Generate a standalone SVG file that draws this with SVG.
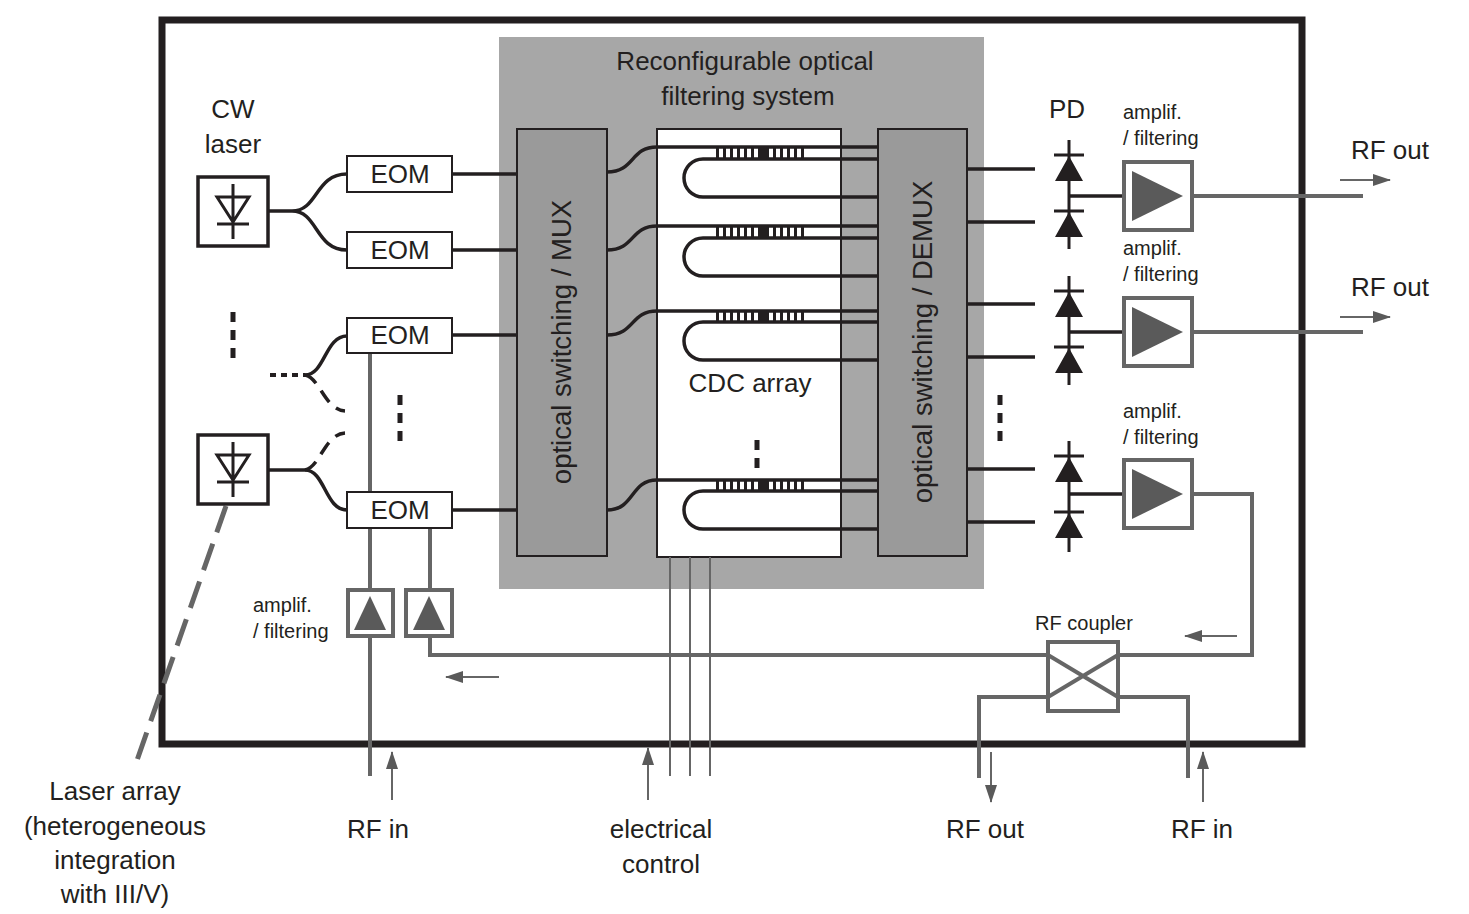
<svg xmlns="http://www.w3.org/2000/svg" width="1469" height="914" viewBox="0 0 1469 914">
<defs>
<marker id="ahb" markerWidth="18" markerHeight="12" refX="17" refY="6" orient="auto" markerUnits="userSpaceOnUse"><path d="M0,0 L18,6 L0,12 z" fill="#5a5a5a"/></marker>
</defs>
<style>
text{font-family:"Liberation Sans",Arial,sans-serif;fill:#231f20}
.t26{font-size:26px;text-anchor:middle}
.t28{font-size:27.5px;text-anchor:middle}
.t19{font-size:20px}
.wg{fill:none;stroke:#231f20;stroke-width:3.5}
.gl{fill:none;stroke:#666;stroke-width:4}
.thin{fill:none;stroke:#666;stroke-width:2}
.box{fill:#fff;stroke:#231f20;stroke-width:2}
.amp{fill:#fff;stroke:#666;stroke-width:4}
.tri{fill:#5a5a5a}
.dots{stroke:#231f20;stroke-width:5;stroke-dasharray:10,8;fill:none}
</style>
<rect x="162" y="20" width="1140" height="724" fill="#fff" stroke="#231f20" stroke-width="7"/>
<g id="filter-system">
<rect x="499" y="37" width="485" height="552" fill="#a7a7a7"/>
<text class="t26" x="745" y="70">Reconfigurable optical</text>
<text class="t26" x="748" y="105">filtering system</text>
</g>
<g id="mux"><rect x="517" y="129" width="90" height="427" fill="#9a9a9a" stroke="#231f20" stroke-width="2"/>
<text class="t28" transform="translate(571,342) rotate(-90)">optical switching / MUX</text></g>
<g id="demux"><rect x="878" y="129" width="89" height="427" fill="#9a9a9a" stroke="#231f20" stroke-width="2"/>
<text class="t28" transform="translate(932,342) rotate(-90)">optical switching / DEMUX</text></g>
<g id="cdc"><rect x="657" y="129" width="184" height="428" fill="#fff" stroke="#231f20" stroke-width="2"/>
<text class="t26" x="750" y="392">CDC array</text>
<line x1="757" y1="440" x2="757" y2="468" class="dots"/></g>
<g id="connectors">
<g class="wg">
<path d="M607,172 C635,172 630,147 657,147 L878,147"/>
<path d="M878,159 L703,159 A19,19 0 0 0 703,197 L878,197"/>
<path d="M607,250 C635,250 630,226 657,226 L878,226"/>
<path d="M878,238 L703,238 A19,19 0 0 0 703,276 L878,276"/>
<path d="M607,335 C635,335 630,311 657,311 L878,311"/>
<path d="M878,322 L703,322 A19,19 0 0 0 703,360 L878,360"/>
<path d="M607,510 C635,510 630,480 657,480 L878,480"/>
<path d="M878,491 L703,491 A19,19 0 0 0 703,529 L878,529"/>
<path d="M452,174 H517 M452,250 H517 M452,335 H517 M452,510 H517"/>
<path d="M967,169 H1035 M967,222 H1035 M967,304 H1035 M967,357 H1035 M967,469 H1035 M967,522 H1035"/>
<path d="M268,211 H292 C318,211 315,174 347,174 M292,211 C318,211 315,250 347,250"/>
<path d="M268,470 H305 C325,470 325,510 347,510"/>
<path d="M305,375 C325,375 325,336 347,336"/>
</g>
<path d="M270,375 H305" stroke="#231f20" stroke-width="4" stroke-dasharray="6,5" fill="none"/>
<path d="M305,375 C320,378 325,410 345,411" class="wg" stroke-dasharray="14,9"/>
<path d="M305,470 C320,467 325,434 345,433" class="wg" stroke-dasharray="14,9"/>
<g stroke="#231f20" stroke-width="3" stroke-dasharray="3,4">
<path d="M716,153 H758 M766,153 H808 M716,232 H758 M766,232 H808 M716,316 H758 M766,316 H808 M716,485 H758 M766,485 H808" stroke-width="11"/>
</g>
<g fill="#231f20"><rect x="758" y="147" width="8" height="12"/><rect x="758" y="226" width="8" height="12"/><rect x="758" y="311" width="8" height="11"/><rect x="758" y="480" width="8" height="11"/></g>
<path d="M1069,196 H1123 M1069,332 H1123 M1069,494 H1123" class="wg" stroke-width="3"/>
<path d="M1192,196 H1363 M1192,332 H1363" class="gl"/>
<path d="M1192,494 H1252 V655 H1118" class="gl"/>
<path d="M1048,655 H430 V636" class="gl"/>
<path d="M430,590 V528" class="gl"/>
<path d="M370,353 V590 M370,636 V776" class="gl"/>
<path d="M1048,697 H979 V778 M1118,697 H1188 V778" class="gl"/>
<path d="M670,557 V776 M690,557 V776 M710,557 V776" class="thin"/>
<g class="thin" stroke-width="2.5">
<line x1="1340" y1="180" x2="1390" y2="180" marker-end="url(#ahb)"/>
<line x1="1340" y1="317" x2="1390" y2="317" marker-end="url(#ahb)"/>
<line x1="1237" y1="636" x2="1185" y2="636" marker-end="url(#ahb)"/>
<line x1="499" y1="677" x2="446" y2="677" marker-end="url(#ahb)"/>
<line x1="392" y1="800" x2="392" y2="752" marker-end="url(#ahb)"/>
<line x1="648" y1="800" x2="648" y2="748" marker-end="url(#ahb)"/>
<line x1="991" y1="752" x2="991" y2="802" marker-end="url(#ahb)"/>
<line x1="1203" y1="802" x2="1203" y2="752" marker-end="url(#ahb)"/>
</g>
<path d="M226,506 L135,766" stroke="#666" stroke-width="5" stroke-dasharray="28,12" fill="none"/>
<g class="dots"><line x1="233" y1="312" x2="233" y2="366"/><line x1="400" y1="395" x2="400" y2="448"/><line x1="1000" y1="395" x2="1000" y2="448"/></g>
</g>
<g id="laser1"><rect x="198" y="177" width="70" height="69" fill="#fff" stroke="#231f20" stroke-width="3.5"/>
<path d="M233,184 V239 M217,197 H249 L233,222 Z M217,224 H249" fill="none" stroke="#231f20" stroke-width="3"/></g>
<g id="laser2"><rect x="198" y="435" width="70" height="69" fill="#fff" stroke="#231f20" stroke-width="3.5"/>
<path d="M233,442 V497 M217,455 H249 L233,480 Z M217,482 H249" fill="none" stroke="#231f20" stroke-width="3"/></g>
<text class="t26" x="233" y="118">CW</text><text class="t26" x="233" y="153">laser</text>
<g id="eom1"><rect class="box" x="347" y="156" width="105" height="36"/><text class="t26" x="400" y="183">EOM</text></g>
<g id="eom2"><rect class="box" x="347" y="232" width="105" height="36"/><text class="t26" x="400" y="259">EOM</text></g>
<g id="eom3"><rect class="box" x="347" y="318" width="105" height="35"/><text class="t26" x="400" y="344">EOM</text></g>
<g id="eom4"><rect class="box" x="347" y="492" width="105" height="36"/><text class="t26" x="400" y="519">EOM</text></g>
<g id="amp-in1"><rect class="amp" x="348" y="590" width="45" height="46" stroke-width="3"/><path class="tri" d="M370,596 L386,630 L354,630 Z"/></g>
<g id="amp-in2"><rect class="amp" x="406" y="590" width="46" height="46" stroke-width="3"/><path class="tri" d="M429,596 L445,630 L413,630 Z"/></g>
<text class="t19" x="253" y="612">amplif.</text><text class="t19" x="253" y="638">/ filtering</text>
<g id="pd">
<text class="t26" x="1067" y="118">PD</text>
<g stroke="#231f20" stroke-width="3" fill="#231f20">
<path d="M1069,140 V249 M1054,155 H1084 M1054,211 H1084 M1069,276 V385 M1054,291 H1084 M1054,347 H1084 M1069,441 V552 M1054,456 H1084 M1054,512 H1084" fill="none"/>
<path d="M1069,156 L1083,181 L1055,181 Z M1069,212 L1083,237 L1055,237 Z M1069,292 L1083,317 L1055,317 Z M1069,348 L1083,373 L1055,373 Z M1069,457 L1083,482 L1055,482 Z M1069,513 L1083,538 L1055,538 Z" stroke="none"/>
</g></g>
<g id="amp1"><rect class="amp" x="1124" y="162" width="68" height="68"/><path class="tri" d="M1132,171 L1183,196 L1132,221 Z"/>
<text class="t19" x="1123" y="119">amplif.</text><text class="t19" x="1123" y="145">/ filtering</text></g>
<g id="amp2"><rect class="amp" x="1124" y="298" width="68" height="68"/><path class="tri" d="M1132,307 L1183,332 L1132,357 Z"/>
<text class="t19" x="1123" y="255">amplif.</text><text class="t19" x="1123" y="281">/ filtering</text></g>
<g id="amp3"><rect class="amp" x="1124" y="460" width="68" height="68"/><path class="tri" d="M1132,469 L1183,494 L1132,519 Z"/>
<text class="t19" x="1123" y="418">amplif.</text><text class="t19" x="1123" y="444">/ filtering</text></g>
<g id="coupler"><rect x="1048" y="642" width="70" height="69" fill="#fff" stroke="#666" stroke-width="4"/>
<path d="M1048,697 L1118,655 M1048,655 L1118,697" class="gl"/>
<text class="t19" x="1084" y="630" text-anchor="middle">RF coupler</text></g>
<text class="t26" x="1390" y="159">RF out</text>
<text class="t26" x="1390" y="296">RF out</text>
<text class="t26" x="378" y="838">RF in</text>
<text class="t26" x="661" y="838">electrical</text>
<text class="t26" x="661" y="873">control</text>
<text class="t26" x="985" y="838">RF out</text>
<text class="t26" x="1202" y="838">RF in</text>
<text class="t26" x="115" y="800">Laser array</text>
<text class="t26" x="115" y="835">(heterogeneous</text>
<text class="t26" x="115" y="869">integration</text>
<text class="t26" x="115" y="903">with III/V)</text>
</svg>
